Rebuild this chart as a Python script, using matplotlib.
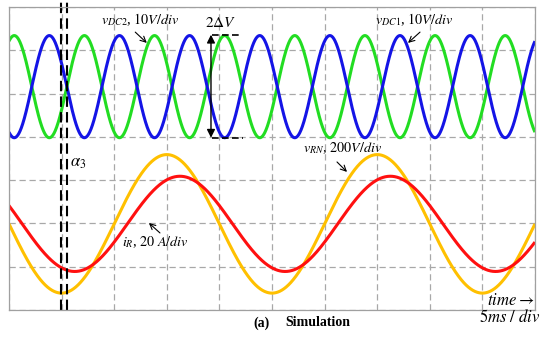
import numpy as np
import matplotlib
matplotlib.use("Agg")
import matplotlib.pyplot as plt

plt.rcParams['font.family'] = ['Liberation Serif', 'DejaVu Serif']
plt.rcParams['mathtext.fontset'] = 'stix'

# waveform parameters (y in divisions, t in ms)
names = ['v_DC2', 'v_DC1', 'v_RN', 'i_R']
offsets = [5.16, 5.16, 1.99, 1.99]
amplitudes = [1.18, -1.18, 1.60, 1.10]
periods_ms = [20 / 3, 20 / 3, 20.0, 20.0]
peak_ms = [0.5, 0.5, 15.0, 16.25]
colors = ['#22dd22', '#1414e6', '#ffc000', '#ff1010']

alpha_lines_ms = [4.94, 5.48]
t = np.linspace(0, 50, 2000)

fig = plt.figure(figsize=(5.5, 3.39), dpi=100)
ax = fig.add_axes([9 / 550, 29 / 339, 526 / 550, 303 / 339])

for off, amp, per, pk, c in zip(offsets, amplitudes, periods_ms, peak_ms, colors):
    y = off + amp * np.cos(2 * np.pi * (t - pk) / per)
    ax.plot(t, y, color=c, lw=2.2, solid_capstyle='butt')

ax.set_xlim(0, 50)
ax.set_ylim(0, 7)
ax.set_xticks(np.arange(0, 51, 5))
ax.set_yticks(np.arange(0, 8, 1))
ax.tick_params(length=0, labelbottom=False, labelleft=False)
ax.grid(True, color='#a8a8a8', lw=0.9, linestyle=(0, (5, 3)))
for s in ax.spines.values():
    s.set_color('#a0a0a0')
    s.set_linewidth(0.9)

# alpha_3 markers
for xa in alpha_lines_ms:
    ax.plot([xa, xa], [0, 7.15], color='black', lw=1.5,
            linestyle=(0, (5, 2.5)), clip_on=False)
ax.text(6.56, 3.39, r'$\alpha_3$', fontsize=12, ha='center', va='center')

# 2 delta V marker
ax.annotate('', xy=(19.2, 3.98), xytext=(19.2, 6.36),
            arrowprops=dict(arrowstyle='<|-|>', color='black', lw=1.0,
                            mutation_scale=12, shrinkA=0, shrinkB=0))
ax.plot([19.3, 21.9], [6.36, 6.36], color='black', lw=1.2, linestyle=(0, (4, 2)))
ax.plot([19.3, 22.2], [3.98, 3.98], color='black', lw=1.2, linestyle=(0, (4, 2)))
ax.text(20.15, 6.63, r'$2\Delta V$', fontsize=11, ha='center', va='center')

# labels with arrows
labels = [r'$v_{DC2}$, $10V/div$', r'$v_{DC1}$, $10V/div$',
          r'$v_{RN}$, $200V/div$', r'$i_{R}$, $20\ A/div$']
label_xy = [(12.45, 6.70), (38.5, 6.70), (31.7, 3.74), (13.9, 1.57)]
arrow_from = [(12.0, 6.42), (39.07, 6.42), (31.18, 3.42), (14.35, 1.78)]
arrow_to = [(13.1, 6.17), (37.93, 6.17), (32.13, 3.19), (13.3, 2.01)]
for lab, (lx, ly), a0, a1 in zip(labels, label_xy, arrow_from, arrow_to):
    ax.text(lx, ly, lab, fontsize=10.2, ha='center', va='center')
    ax.annotate('', xy=a1, xytext=a0,
                arrowprops=dict(arrowstyle='->', color='black', lw=0.8,
                                shrinkA=0, shrinkB=0))

ax.text(49.9, 0.21, r'$time \rightarrow$', fontsize=12, ha='right', va='center')
fig.text(540 / 550, (339 - 317) / 339, r'$5ms\ /\ div$', fontsize=12,
         ha='right', va='center')

fig.text(262 / 550, (339 - 323) / 339, '(a)', fontsize=10, fontweight='bold',
         ha='center', va='center')
fig.text(285 / 550, (339 - 323) / 339, 'Simulation', fontsize=10,
         fontweight='bold', ha='left', va='center')

fig.savefig('out.png', dpi=100)
